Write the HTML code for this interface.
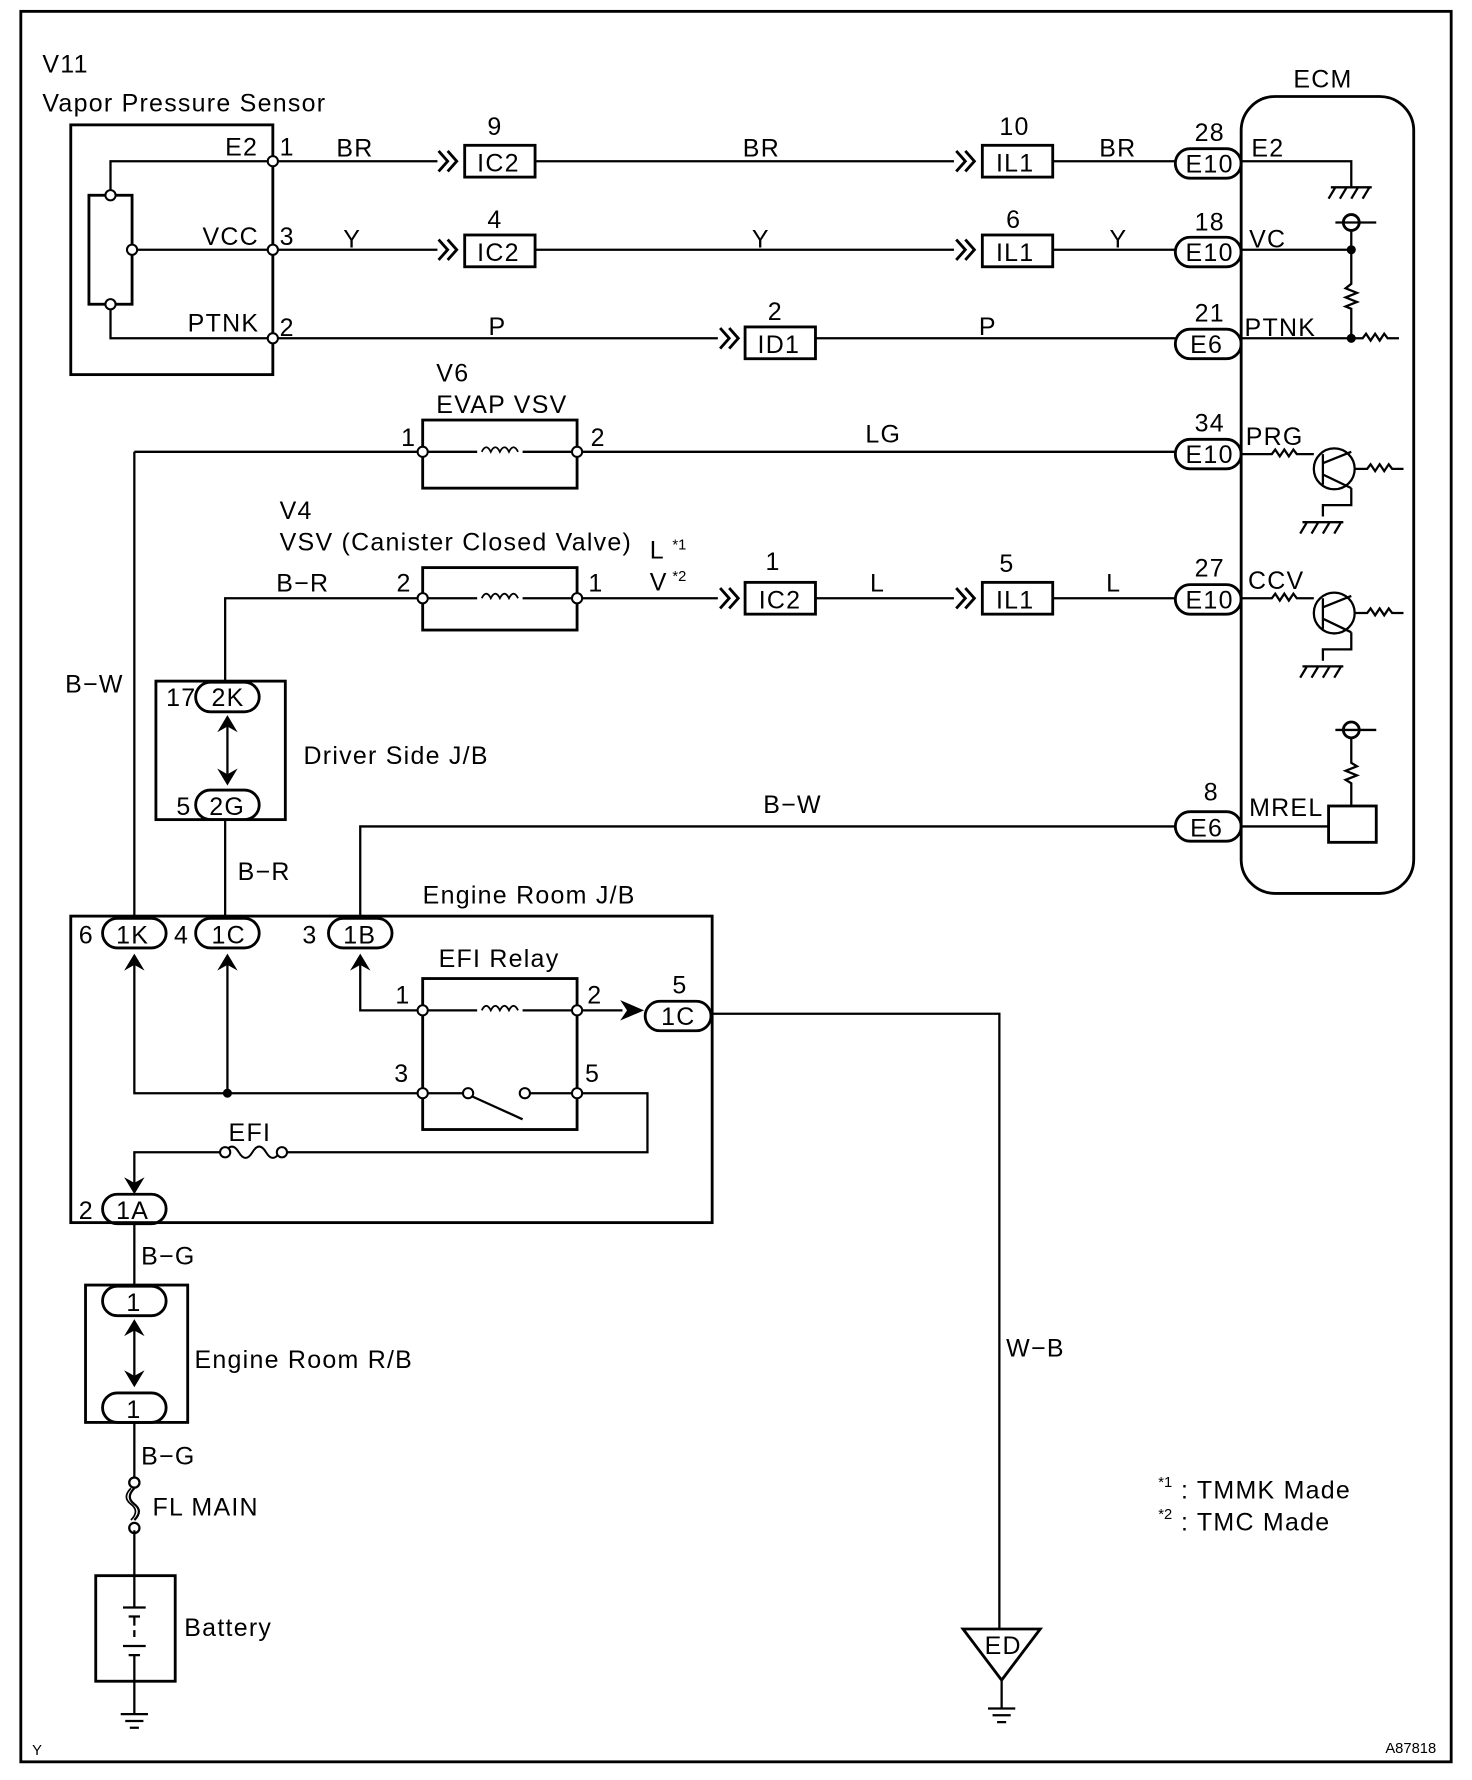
<!DOCTYPE html>
<html><head><style>
html,body{margin:0;padding:0;background:#fff;}
svg{display:block;}
text{font-family:"Liberation Sans",sans-serif;font-size:22px;letter-spacing:1.1px;fill:#000;}
.s{font-size:13px;letter-spacing:0;}
</style></head><body>
<svg width="1472" height="1780" viewBox="0 0 1296 1568" xmlns="http://www.w3.org/2000/svg">
<defs>
<g id="ch"><path d="M0,-9 L8,0 L0,9 M8,-9 L16,0 L8,9" fill="none" stroke="#000" stroke-width="2.5"/></g>
<g id="up"><path d="M-9,9 L0,-6 L9,9 L0,4 Z" fill="#000"/></g>
<g id="dn"><path d="M-9,-9 L0,6 L9,-9 L0,-4 Z" fill="#000"/></g>
<g id="gnd"><path d="M-18,0 H18 M-14,0 L-20,10 M-4,0 L-10,10 M6,0 L0,10 M16,0 L10,10" fill="none" stroke="#000" stroke-width="2"/></g>
<g id="coil"><path d="M-16,0 q4,-8 8,0 q4,-8 8,0 q4,-8 8,0 q4,-8 8,0" fill="none" stroke="#000" stroke-width="1.6"/></g>
</defs>
<g fill="none" stroke="#000" stroke-width="2">
<rect x="18" y="10" width="1260" height="1542" stroke-width="2.5"/>
<rect x="62" y="110" width="178" height="220" stroke-width="2.5"/>
<rect x="78" y="172" width="38" height="96" stroke-width="2.5"/>
<path d="M97,172 V142 H240 M116,220 H240 M97,268 V298 H240 M240,110 V330"/>
<path d="M240,142 H385 M471,142 H840 M927,142 H1035"/>
<path d="M240,220 H385 M471,220 H840 M927,220 H1035"/>
<path d="M240,298 H632 M718,298 H1035"/>
<rect x="409" y="128" width="62" height="28" stroke-width="2.5"/>
<rect x="409" y="207" width="62" height="28" stroke-width="2.5"/>
<rect x="865" y="128" width="62" height="28" stroke-width="2.5"/>
<rect x="865" y="207" width="62" height="28" stroke-width="2.5"/>
<rect x="656" y="288" width="62" height="28" stroke-width="2.5"/>
<rect x="1035" y="131" width="58" height="26" rx="13" stroke-width="2.5"/>
<rect x="1035" y="209" width="58" height="26" rx="13" stroke-width="2.5"/>
<rect x="1035" y="290" width="58" height="26" rx="13" stroke-width="2.5"/>
<rect x="1093" y="85" width="152" height="702" rx="30" stroke-width="2.5"/>
<path d="M1093,142 H1190 V165 M1093,220 H1190 M1190,204 V250 l-5,4 10,4 -10,4 10,4 -10,4 5,2 V298 M1093,298 H1200 l3,-4 4,6 4,-6 4,6 4,-6 3,4 H1232 M1176,196 H1212"/>
<circle cx="1190" cy="196" r="7" stroke-width="2.5"/>
<path d="M118,398 H372 M372,398 H420 M460,398 H508 M508,398 H1035"/>
<rect x="372" y="370" width="136" height="60" stroke-width="2.5"/>
<rect x="1035" y="387" width="58" height="26" rx="13" stroke-width="2.5"/>
<path d="M1093,400 H1120 l3,-4 4,6 4,-6 4,6 4,-6 3,4 H1157"/>
<circle cx="1175" cy="413" r="18"/>
<path d="M1165,400 V427 M1165,408 L1190,398 M1165,418 L1190,430 M1193,413 H1204 l3,-4 4,6 4,-6 4,6 4,-6 3,4 H1236 M1190,430 V445 H1165 V455"/>
<path d="M198,600 V527 H372 M372,527 H420 M460,527 H508 M508,527 H632 M718,527 H840 M927,527 H1035"/>
<rect x="372" y="500" width="136" height="55" stroke-width="2.5"/>
<rect x="656" y="513" width="62" height="28" stroke-width="2.5"/>
<rect x="865" y="513" width="62" height="28" stroke-width="2.5"/>
<rect x="1035" y="515" width="58" height="26" rx="13" stroke-width="2.5"/>
<path d="M1093,527 H1120 l3,-4 4,6 4,-6 4,6 4,-6 3,4 H1157"/>
<circle cx="1175" cy="540" r="18"/>
<path d="M1165,527 V554 M1165,535 L1190,525 M1165,545 L1190,557 M1193,540 H1204 l3,-4 4,6 4,-6 4,6 4,-6 3,4 H1236 M1190,557 V572 H1165 V582"/>
<rect x="1035" y="715" width="58" height="26" rx="13" stroke-width="2.5"/>
<path d="M1035,728 H317 V808 M1093,728 H1170"/>
<rect x="1170" y="710" width="42" height="32" stroke-width="2.5"/>
<path d="M1190,710 V690 l-5,-3 10,-4 -10,-4 10,-4 -5,-3 V650 M1176,643 H1212"/>
<circle cx="1190" cy="643" r="7" stroke-width="2.5"/>
<path d="M118,398 V808"/>
<rect x="137" y="600" width="114" height="122" stroke-width="2.5"/>
<rect x="172" y="601" width="56" height="26" rx="13" stroke-width="2.5"/>
<rect x="172" y="696" width="56" height="26" rx="13" stroke-width="2.5"/>
<path d="M200,640 V682 M198,722 V808"/>
<rect x="62" y="807" width="565" height="270" stroke-width="2.5"/>
<rect x="90" y="809" width="56" height="26" rx="13" stroke-width="2.5"/>
<rect x="172" y="809" width="56" height="26" rx="13" stroke-width="2.5"/>
<rect x="289" y="809" width="56" height="26" rx="13" stroke-width="2.5"/>
<path d="M118,848 V963 H372 M200,848 V963 M317,848 V890 H372 M372,890 H420 M460,890 H508 H548"/>
<rect x="372" y="862" width="136" height="133" stroke-width="2.5"/>
<rect x="568" y="882" width="58" height="26" rx="13" stroke-width="2.5"/>
<path d="M372,963 H408 M416,966 L460,986 M466,963 H508 H570 V1015 H248 M198,1015 H118 V1050"/>
<path d="M198,1015 q6,-10 12,0 q6,10 12,0 q6,-10 12,0 q6,10 12,0" stroke-width="1.8"/>
<rect x="90" y="1052" width="56" height="26" rx="13" stroke-width="2.5"/>
<path d="M626,893 H880 V1435"/>
<path d="M848,1435 H916 L882,1480 Z" stroke-width="2.5"/>
<path d="M882,1480 V1505 M870,1505 H894 M874,1511 H890 M878,1517 H886"/>
<path d="M118,1078 V1132"/>
<rect x="75" y="1132" width="90" height="121" stroke-width="2.5"/>
<rect x="90" y="1133" width="56" height="26" rx="13" stroke-width="2.5"/>
<rect x="90" y="1227" width="56" height="26" rx="13" stroke-width="2.5"/>
<path d="M118,1172 V1212 M118,1253 V1302 M118,1348 V1388"/>
<circle cx="118" cy="1306" r="4.5"/><circle cx="118" cy="1346" r="4.5"/>
<path d="M118,1311 q-8,8 0,14 q8,6 0,14" stroke-width="2"/>
<path d="M115,1311 q-8,8 0,14 q8,6 0,14" stroke-width="1.5"/>
<rect x="84" y="1388" width="70" height="93" stroke-width="2.5"/>
<path d="M118,1388 V1416 M108,1416 H128 M113,1424 H123 M118,1424 V1432 M118,1436 V1442 M108,1450 H128 M113,1458 H123 M118,1458 V1481 M118,1481 V1510 M106,1510 H130 M110,1516 H126 M114,1522 H122"/>
</g>
<g fill="#fff" stroke="#000" stroke-width="1.8">
<circle cx="240" cy="142" r="4.5"/><circle cx="240" cy="220" r="4.5"/><circle cx="240" cy="298" r="4.5"/>
<circle cx="97" cy="172" r="4.5"/><circle cx="97" cy="268" r="4.5"/><circle cx="116" cy="220" r="4.5"/>
<circle cx="372" cy="398" r="4.5"/><circle cx="508" cy="398" r="4.5"/>
<circle cx="372" cy="527" r="4.5"/><circle cx="508" cy="527" r="4.5"/>
<circle cx="372" cy="890" r="4.5"/><circle cx="508" cy="890" r="4.5"/>
<circle cx="372" cy="963" r="4.5"/><circle cx="508" cy="963" r="4.5"/>
<circle cx="412" cy="963" r="4.5"/><circle cx="462" cy="963" r="4.5"/>
<circle cx="198" cy="1015" r="4.5"/><circle cx="248" cy="1015" r="4.5"/>
</g>
<g fill="#000"><circle cx="1190" cy="220" r="4"/><circle cx="1190" cy="298" r="4"/><circle cx="200" cy="963" r="4"/></g>
<use href="#coil" x="440" y="398"/><use href="#coil" x="440" y="527"/><use href="#coil" x="440" y="890"/>
<use href="#ch" x="386" y="142"/><use href="#ch" x="386" y="220"/><use href="#ch" x="842" y="142"/><use href="#ch" x="842" y="220"/>
<use href="#ch" x="634" y="298"/><use href="#ch" x="634" y="527"/><use href="#ch" x="842" y="527"/>
<path d="M546,881 L567,890 L546,899 L552,890 Z" fill="#000"/>
<use href="#gnd" x="1190" y="165"/><use href="#gnd" x="1165" y="460"/><use href="#gnd" x="1165" y="587"/>
<use href="#up" x="200" y="636"/><use href="#dn" x="200" y="686"/>
<use href="#up" x="118" y="846"/><use href="#up" x="200" y="846"/><use href="#up" x="317" y="846"/>
<use href="#dn" x="118" y="1046"/>
<use href="#up" x="118" y="1168"/><use href="#dn" x="118" y="1216"/>
<g>
<text x="37" y="64">V11</text><text x="37" y="98">Vapor Pressure Sensor</text>
<text x="198" y="137">E2</text><text x="246" y="137">1</text>
<text x="178" y="216">VCC</text><text x="246" y="216">3</text>
<text x="165" y="292">PTNK</text><text x="246" y="296">2</text>
<text x="296" y="138">BR</text><text x="654" y="138">BR</text><text x="968" y="138">BR</text>
<text x="302" y="218">Y</text><text x="662" y="218">Y</text><text x="977" y="218">Y</text>
<text x="430" y="295">P</text><text x="862" y="295">P</text>
<text x="429" y="119">9</text><text x="429" y="201">4</text><text x="880" y="119">10</text><text x="886" y="201">6</text><text x="676" y="282">2</text>
<text x="1052" y="124">28</text><text x="1052" y="203">18</text><text x="1052" y="283">21</text>
<text x="1102" y="138">E2</text><text x="1100" y="218">VC</text><text x="1096" y="296">PTNK</text>
<text x="1139" y="77">ECM</text>
<text x="420" y="151">IC2</text><text x="420" y="230">IC2</text>
<text x="877" y="151">IL1</text><text x="877" y="230">IL1</text><text x="667" y="311">ID1</text>
<text x="1044" y="152">E10</text><text x="1044" y="230">E10</text><text x="1048" y="311">E6</text>
<text x="384" y="336">V6</text><text x="384" y="364">EVAP VSV</text>
<text x="353" y="393">1</text><text x="520" y="393">2</text><text x="762" y="390">LG</text>
<text x="1052" y="380">34</text><text x="1044" y="408">E10</text><text x="1097" y="392">PRG</text>
<text x="246" y="457">V4</text><text x="246" y="485">VSV (Canister Closed Valve)</text>
<text x="572" y="492">L</text><text x="592" y="484" class="s">*1</text>
<text x="572" y="520">V</text><text x="592" y="512" class="s">*2</text>
<text x="243" y="521">B−R</text><text x="349" y="521">2</text><text x="518" y="521">1</text>
<text x="674" y="502">1</text><text x="668" y="536">IC2</text><text x="766" y="521">L</text>
<text x="880" y="504">5</text><text x="877" y="536">IL1</text><text x="974" y="521">L</text>
<text x="1052" y="508">27</text><text x="1044" y="536">E10</text><text x="1099" y="519">CCV</text>
<text x="57" y="610">B−W</text>
<text x="146" y="622">17</text><text x="186" y="622">2K</text>
<text x="155" y="718">5</text><text x="184" y="718">2G</text>
<text x="267" y="673">Driver Side J/B</text>
<text x="672" y="716">B−W</text><text x="1060" y="705">8</text><text x="1048" y="737">E6</text><text x="1100" y="719">MREL</text>
<text x="209" y="775">B−R</text>
<text x="372" y="796">Engine Room J/B</text>
<text x="69" y="831">6</text><text x="102" y="831">1K</text>
<text x="153" y="831">4</text><text x="186" y="831">1C</text>
<text x="266" y="831">3</text><text x="302" y="831">1B</text>
<text x="386" y="852">EFI Relay</text>
<text x="348" y="884">1</text><text x="517" y="884">2</text>
<text x="347" y="953">3</text><text x="515" y="953">5</text>
<text x="592" y="875">5</text><text x="582" y="903">1C</text>
<text x="201" y="1005">EFI</text>
<text x="69" y="1074">2</text><text x="102" y="1074">1A</text>
<text x="124" y="1114">B−G</text>
<text x="111" y="1155">1</text><text x="111" y="1249">1</text>
<text x="171" y="1205">Engine Room R/B</text>
<text x="124" y="1290">B−G</text>
<text x="134" y="1335">FL MAIN</text>
<text x="162" y="1441">Battery</text>
<text x="886" y="1195">W−B</text>
<text x="867" y="1457">ED</text>
<text x="1020" y="1310" class="s">*1</text><text x="1040" y="1320">: TMMK Made</text>
<text x="1020" y="1338" class="s">*2</text><text x="1040" y="1348">: TMC Made</text>
<text x="28" y="1546" class="s">Y</text><text x="1220" y="1544" class="s">A87818</text>
</g>
</svg>
</body></html>
